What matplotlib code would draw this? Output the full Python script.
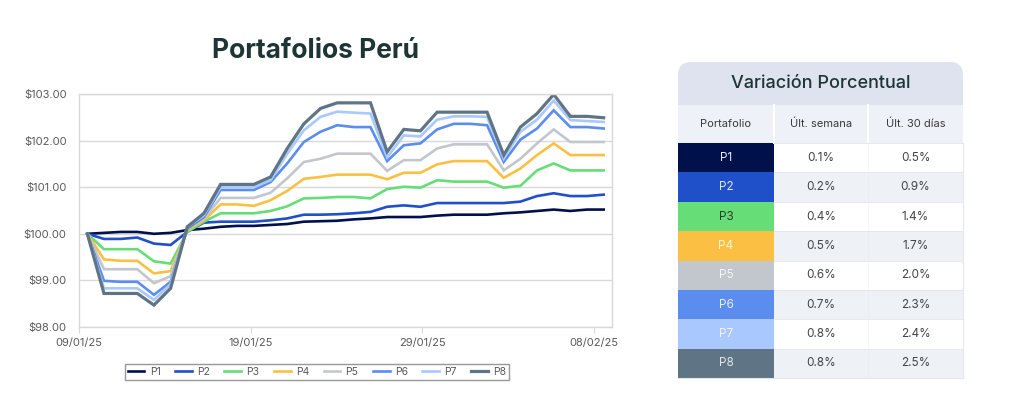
import numpy as np
import matplotlib
matplotlib.use("Agg")
import matplotlib.pyplot as plt
from matplotlib.patches import Rectangle, FancyBboxPatch

plt.rcParams['font.family'] = ['Inter', 'DejaVu Sans']

# datos (valor de cada portafolio, base 100)
dates = ["09/01/25", "19/01/25", "29/01/25", "08/02/25"]
names = ["P1", "P2", "P3", "P4", "P5", "P6", "P7", "P8"]
colors = ["#00104a", "#1f4fc9", "#66dd77", "#fbc043", "#c2c7cd",
          "#5b8def", "#a9c8fd", "#5f7585"]

p1 = [100.00, 100.02, 100.04, 100.04, 100.00, 100.02, 100.08, 100.11, 100.15, 100.17,
      100.17, 100.19, 100.21, 100.26, 100.27, 100.28, 100.31, 100.33, 100.36, 100.36,
      100.36, 100.39, 100.41, 100.41, 100.41, 100.44, 100.46, 100.49, 100.52, 100.49,
      100.52, 100.52]
p2 = [100.00, 99.89, 99.89, 99.92, 99.79, 99.76, 100.04, 100.24, 100.26, 100.26,
      100.26, 100.29, 100.33, 100.41, 100.41, 100.42, 100.44, 100.47, 100.58, 100.61,
      100.58, 100.66, 100.66, 100.66, 100.66, 100.66, 100.69, 100.81, 100.87, 100.81,
      100.81, 100.84]
p3 = [100.00, 99.67, 99.67, 99.67, 99.41, 99.36, 100.04, 100.26, 100.44, 100.44,
      100.44, 100.49, 100.59, 100.76, 100.77, 100.79, 100.79, 100.76, 100.96, 101.01,
      100.99, 101.15, 101.12, 101.12, 101.12, 100.99, 101.03, 101.36, 101.51, 101.36,
      101.36, 101.36]
p4 = [100.00, 99.45, 99.42, 99.42, 99.15, 99.20, 100.08, 100.29, 100.63, 100.63,
      100.60, 100.72, 100.92, 101.18, 101.22, 101.27, 101.27, 101.27, 101.17, 101.31,
      101.31, 101.49, 101.56, 101.56, 101.56, 101.20, 101.40, 101.69, 101.94, 101.69,
      101.69, 101.69]
p5 = [100.00, 99.24, 99.24, 99.24, 98.94, 99.09, 100.11, 100.33, 100.77, 100.77,
      100.77, 100.88, 101.19, 101.54, 101.61, 101.72, 101.72, 101.72, 101.35, 101.58,
      101.58, 101.83, 101.92, 101.92, 101.92, 101.36, 101.61, 101.94, 102.24, 101.97,
      101.97, 101.97]
p6 = [100.00, 98.99, 98.97, 98.97, 98.69, 98.97, 100.11, 100.36, 100.94, 100.94,
      100.94, 101.11, 101.51, 101.97, 102.19, 102.33, 102.29, 102.29, 101.56, 101.90,
      101.94, 102.24, 102.36, 102.36, 102.33, 101.54, 102.02, 102.26, 102.65, 102.29,
      102.29, 102.26]
p7 = [100.00, 98.83, 98.83, 98.83, 98.58, 98.92, 100.15, 100.40, 101.00, 101.00,
      101.00, 101.15, 101.72, 102.22, 102.51, 102.62, 102.60, 102.58, 101.64, 102.11,
      102.09, 102.45, 102.52, 102.52, 102.51, 101.61, 102.19, 102.45, 102.86, 102.44,
      102.42, 102.40]
p8 = [100.00, 98.72, 98.72, 98.72, 98.47, 98.83, 100.15, 100.44, 101.06, 101.06,
      101.06, 101.22, 101.83, 102.36, 102.69, 102.81, 102.81, 102.81, 101.76, 102.24,
      102.21, 102.61, 102.61, 102.61, 102.61, 101.69, 102.29, 102.58, 102.99, 102.52,
      102.52, 102.49]
series = [p1, p2, p3, p4, p5, p6, p7, p8]

ult_semana = ["0.1%", "0.2%", "0.4%", "0.5%", "0.6%", "0.7%", "0.8%", "0.8%"]
ult_30 = ["0.5%", "0.9%", "1.4%", "1.7%", "2.0%", "2.3%", "2.4%", "2.5%"]
label_colors = ["#e8ecf5", "#dfe6f7", "#2c3e2f", "#fff4dc", "#f4f5f7",
                "#e8eefc", "#eef3ff", "#dfe5ea"]

fig = plt.figure(figsize=(10.24, 4.16), dpi=100)

# ---- tabla (dibujada en pixeles) ----
tab = fig.add_axes([0, 0, 1, 1])
tab.set_xlim(0, 1024)
tab.set_ylim(416, 0)
tab.axis('off')

x0, x1, x2, x3 = 678, 774, 868, 963
top, head_bot, col_bot = 62, 105, 143
row_h = 29.4

tab.add_patch(FancyBboxPatch((x0, top), x3 - x0, 60, boxstyle="round,pad=0,rounding_size=13",
                             fc="#dfe3ef", ec="none", mutation_aspect=1))
tab.add_patch(Rectangle((x0, 90), x3 - x0, head_bot - 90, fc="#dfe3ef", ec="none"))
tab.text((x0 + x3) / 2, 84, "Variación Porcentual", ha='center', va='center',
         fontsize=13, fontweight='medium', color="#1e3535")

tab.add_patch(Rectangle((x0, head_bot), x3 - x0, col_bot - head_bot, fc="#eef2f8", ec="none"))
for xc in (x1, x2):
    tab.plot([xc, xc], [head_bot, col_bot], color="white", lw=1.5)
heads = ["Portafolio", "Últ. semana", "Últ. 30 días"]
for (a, b), h in zip([(x0, x1), (x1, x2), (x2, x3)], heads):
    tab.text((a + b) / 2, (head_bot + col_bot) / 2, h, ha='center', va='center',
             fontsize=8, color="#3a3a3a")

for i, name in enumerate(names):
    yt = col_bot + i * row_h
    bg = "white" if i % 2 == 0 else "#eef2f7"
    tab.add_patch(Rectangle((x1, yt), x3 - x1, row_h, fc=bg, ec="none"))
    tab.add_patch(Rectangle((x0, yt), x1 - x0, row_h, fc=colors[i], ec="none"))
    tab.text((x0 + x1) / 2, yt + row_h / 2, name, ha='center', va='center',
             fontsize=8.5, color=label_colors[i])
    tab.text((x1 + x2) / 2, yt + row_h / 2, ult_semana[i], ha='center', va='center',
             fontsize=8.5, color="#444444")
    tab.text((x2 + x3) / 2, yt + row_h / 2, ult_30[i], ha='center', va='center',
             fontsize=8.5, color="#444444")
    tab.plot([x1, x3], [yt, yt], color="#e3e6ea", lw=0.6)
tbot = col_bot + 8 * row_h
tab.plot([x2, x2], [col_bot, tbot], color="#e3e6ea", lw=0.6, ls=':')
tab.plot([x3, x3], [col_bot, tbot], color="#e3e6ea", lw=0.8)
tab.plot([x0, x3], [tbot, tbot], color="#e3e6ea", lw=0.8)

# ---- grafico de lineas ----
ax = fig.add_axes([79 / 1024, 1 - 327 / 416, 533 / 1024, 233 / 416])
x = np.arange(len(p1))
for name, col, s in zip(names, colors, series):
    ax.plot(x, s, color=col, lw=2.3 if name == "P8" else 1.9, label=name,
            solid_joinstyle='miter')

ax.set_xlim(-0.5, len(p1) - 0.5)
ax.set_ylim(98, 103)
ax.set_yticks([98, 99, 100, 101, 102, 103])
ax.set_yticklabels([f"${v:.2f}" for v in [98, 99, 100, 101, 102, 103]])
ax.set_xticks([-0.5, 9.8, 20.1, 30.4])
ax.set_xticklabels(dates)
ax.grid(axis='y', color="#d9d9d9", lw=1)
ax.set_axisbelow(True)
for sp in ax.spines.values():
    sp.set_color("#d9d9d9")
    sp.set_linewidth(1)
ax.tick_params(axis='y', length=0, pad=9, labelsize=8, labelcolor="#595959")
ax.tick_params(axis='x', length=4, color="#d9d9d9", pad=4, labelsize=8, labelcolor="#595959")

fig.text(316 / 1024, 1 - 51 / 416, "Portafolios Perú", ha='center', va='center',
         fontsize=19, fontweight='bold', color="#1e3535")

leg = fig.legend(loc='center', bbox_to_anchor=(317 / 1024, 1 - 372 / 416), ncol=8,
                 frameon=True, fancybox=False, edgecolor="#7f7f7f", fontsize=7.5,
                 handlelength=1.6, columnspacing=1.4, handletextpad=0.5,
                 borderpad=0.3, borderaxespad=0, labelcolor="#595959")
leg.get_frame().set_linewidth(1)

fig.savefig("out.png", dpi=100, facecolor="white")
